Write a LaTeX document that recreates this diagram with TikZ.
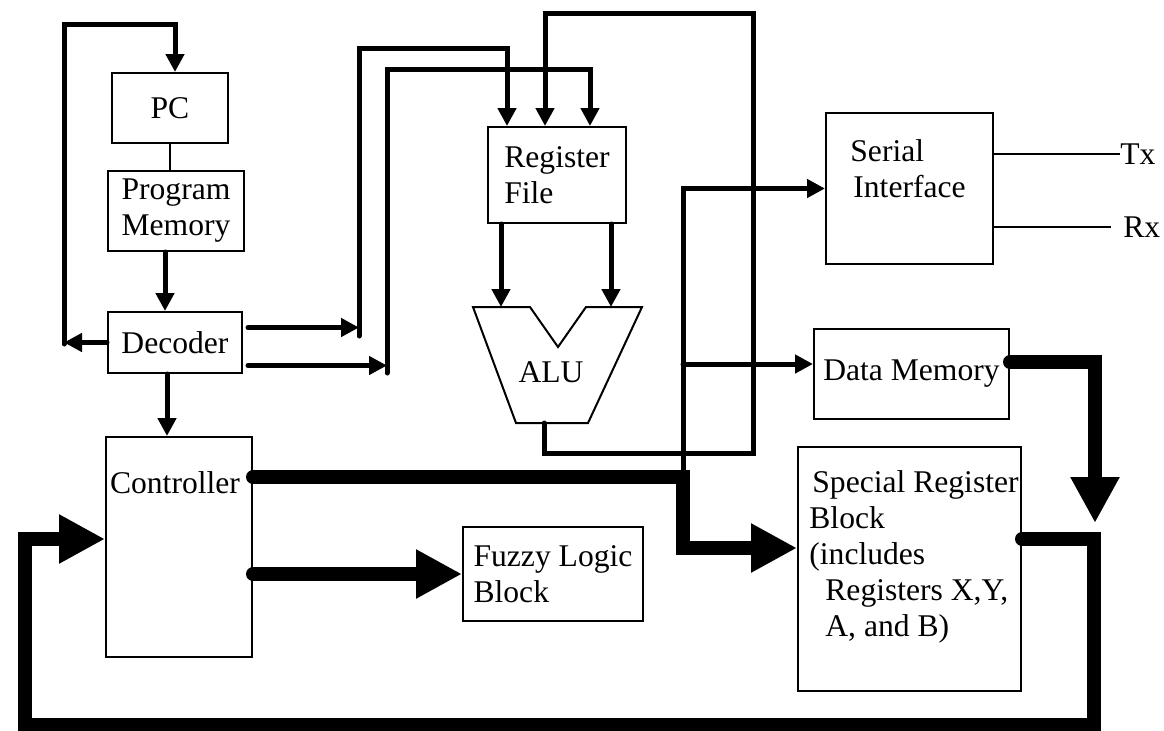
\documentclass[tikz,border=0pt]{standalone}
\usepackage{fontspec}
\setmainfont{Liberation Serif}
\usetikzlibrary{arrows.meta}

\begin{document}
\begin{tikzpicture}[x=0.5pt,y=-0.5pt]
\tikzstyle{every node}+=[inner sep=0pt, font=\fontsize{15.8}{18}\selectfont]
\tikzstyle{box}=[draw=black, line width=1pt, align=left]
\tikzstyle{wire}=[black, line width=0.8pt]
\tikzstyle{bus}=[black, line width=2.5pt, line cap=round, line join=miter]
\tikzstyle{busarrow}=[bus, -{Triangle[length=9pt,width=9pt]}]
\tikzstyle{fat}=[black, line width=7pt, line cap=round, line join=miter]
\tikzstyle{fatarrow}=[fat, -{Triangle[length=23pt,width=23pt]}]
\useasboundingbox (0,0) rectangle (1164,730);
\node [box, minimum width=58pt, minimum height=35pt] (pc) at (170,108) {PC};
\node [box, minimum width=68pt, minimum height=40pt] (pmem) at (176,211) {Program\\Memory};
\node [box, minimum width=67pt, minimum height=30.5pt] (dec) at (175,342.5) {Decoder};
\node [box, minimum width=73pt, minimum height=110pt] (ctrl) at (179,547) {};
\node (ctrltxt) at (175,483) {Controller};
\node [box, minimum width=69pt, minimum height=48pt] (regf) at (557,175) {Register\\File};
\node [box, minimum width=83.5pt, minimum height=75.5pt] (serial) at (909.5,188.5) {};
\node [anchor=north west, align=left] (serialtxt) at (850,139) {Serial\\\hspace*{1.5pt}Interface};
\node [box, minimum width=97.5pt, minimum height=45pt] (dmem) at (911.5,374) {Data Memory};
\node [box, minimum width=90pt, minimum height=47pt] (fuzzy) at (553,574) {Fuzzy Logic\\Block};
\node [box, minimum width=111.5pt, minimum height=122pt] (srb) at (909.5,569) {};
\node [anchor=north west, align=left] (srbtxt) at (809,470) {\hspace*{1.5pt}Special Register\\Block\\(includes\\\hspace*{8pt}Registers X,Y,\\\hspace*{8pt}A, and B)};
\node (alu) at (551,372) {ALU};
\node [anchor=west] (tx) at (1120,154) {Tx};
\node [anchor=west] (rx) at (1123,227) {Rx};
\draw [black, line width=1pt] (473,307) -- (530,307) -- (558,347) -- (586,307) -- (642,307) -- (588,423) -- (516,423) -- cycle;
\coordinate (alua) at (501,307);
\coordinate (alub) at (611,307);
\coordinate (aluo) at (544,423);
\draw [wire, line width=1pt] (pc.south) -- (pc.south |- pmem.north);
\coordinate (pmd) at ([xshift=-5.5pt]pmem.south);
\draw [busarrow] (pmd) -- (pmd |- dec.north);
\coordinate (dcd) at ([xshift=-4pt]dec.south);
\draw [busarrow] (dcd) -- (dcd |- ctrl.north);
\coordinate (pcfb) at (175,24);
\draw [busarrow] (64,344) |- (pcfb) -- (pcfb |- pc.north);
\draw [busarrow] (dec.west) -- ++(-43,0);
\coordinate (deca) at ([shift={(5,-15)}]dec.east);
\coordinate (decb) at ([shift={(5,23)}]dec.east);
\draw [busarrow] (deca) -- ++(111,0);
\draw [busarrow] (decb) -- ++(139,0);
\coordinate (rfa) at (507,48);
\draw [busarrow] (359,336) |- (rfa) -- (rfa |- regf.north);
\coordinate (rfc) at (590,69);
\draw [busarrow] (387,373) |- (rfc) -- (rfc |- regf.north);
\coordinate (rfb) at (545,13);
\draw [busarrow] (aluo) |- (753,453) -- (753,13) -| (rfb |- regf.north);
\draw [busarrow] (alua |- regf.south) -- (alua);
\draw [busarrow] (alub |- regf.south) -- (alub);
\coordinate (cto) at ([yshift=35pt]ctrl.east);
\coordinate (jn) at (683,548);
\draw [fatarrow] (cto) -| (jn) -- (jn -| srb.west);
\draw [busarrow] (683,477) |- (serial.west);
\coordinate (dmi) at (683,364);
\draw [busarrow] (dmi) -- (dmi -| dmem.west);
\coordinate (dmo) at ([yshift=6pt]dmem.east);
\coordinate (dmt) at (1095,523);
\draw [fatarrow] (dmo) -| (dmt);
\coordinate (sro) at ([yshift=15pt]srb.east);
\coordinate (lpr) at (1094,725);
\coordinate (lpl) at (25,539);
\draw [fatarrow] (sro) -| (lpr) -| (lpl) -- (lpl -| ctrl.west);
\draw [fatarrow] (ctrl.east |- fuzzy.west) -- (fuzzy.west);
\draw [wire] (serial.east |- tx.west) -- (tx.west);
\draw [wire] (serial.east |- rx.west) -- ([xshift=-6pt]rx.west);
\end{tikzpicture}
\end{document}
